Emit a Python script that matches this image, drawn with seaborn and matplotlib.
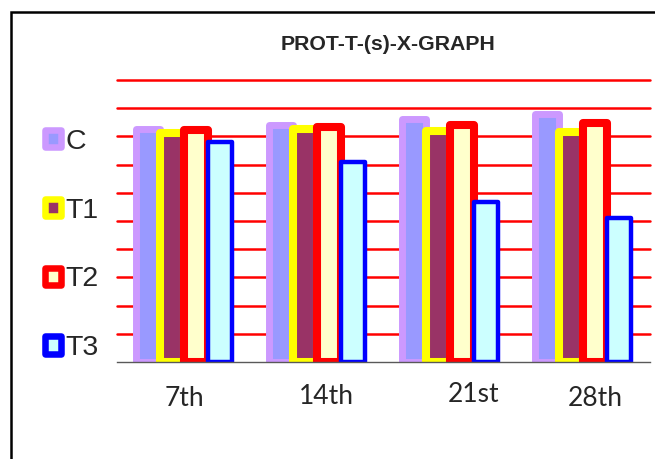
import matplotlib
matplotlib.use('Agg')
import matplotlib.pyplot as plt
import matplotlib.transforms as mtransforms
from matplotlib.patches import Patch, Rectangle
import seaborn as sns
import pandas as pd

# values (one unit = one red gridline)
days = ['7th', '14th', '21st', '28th']
series = ['C', 'T1', 'T2', 'T3']
c_vals = [8.26, 8.39, 8.62, 8.79]
t1_vals = [8.11, 8.27, 8.19, 8.16]
t2_vals = [8.24, 8.33, 8.40, 8.49]
t3_vals = [7.80, 7.09, 5.68, 5.09]

fill_colors = ['#9999FF', '#993366', '#FFFFCC', '#CCFFFF']
edge_colors = ['#CC99FF', '#FFFF00', '#FF0000', '#0000FF']
edge_widths = [5.0, 5.8, 5.8, 3.2]

df = pd.DataFrame({
    'day': days * len(series),
    'series': [s for s in series for _ in days],
    'value': c_vals + t1_vals + t2_vals + t3_vals,
})

sns.set_style('white')
fig = plt.figure(figsize=(6.55, 4.59), dpi=100)
ax = fig.add_axes([117 / 655, 1 - 362 / 459, 533 / 655, 282 / 459])

sns.barplot(data=df, x='day', y='value', hue='series', order=days, hue_order=series,
            palette=fill_colors, saturation=1, width=0.72, errorbar=None,
            legend=False, ax=ax)

# thick coloured outlines with rounded corners, like the Excel original
for cont, ec, lw in zip(ax.containers, edge_colors, edge_widths):
    for bar in cont:
        bar.set_edgecolor(ec)
        bar.set_linewidth(lw)
        bar.set_joinstyle('round')

ax.set_xlim(-0.5, 3.5)
ax.set_ylim(0, 10)
ax.set_yticks(range(1, 11))
ax.set_yticklabels([])
ax.tick_params(axis='y', length=0)
ax.yaxis.grid(True, color='#FF0000', linewidth=1.8)
for gl in ax.get_ygridlines():
    gl.set_clip_on(False)
ax.set_axisbelow(True)

for side in ['left', 'top', 'right']:
    ax.spines[side].set_visible(False)
ax.spines['bottom'].set_color('#595959')
ax.spines['bottom'].set_linewidth(1.0)

ax.set_xticks(range(len(days)))
ax.set_xticklabels(days, fontsize=19, family='Lato')
ax.tick_params(axis='x', which='major', length=0, pad=17)
ax.set_xticks([-0.5, 0.5, 1.5, 2.5, 3.5], minor=True)
ax.tick_params(axis='x', which='minor', length=6, width=1, color='#595959', direction='out')
ax.set_xlabel('')
ax.set_ylabel('')

# the category labels are not quite centred in the original
label_offsets = [(1, 0), (9.5, 2), (23, 4), (12, 0)]
for lab, (dx, dy) in zip(ax.get_xticklabels(), label_offsets):
    lab.set_transform(lab.get_transform() + mtransforms.ScaledTranslation(dx / 100, dy / 100, fig.dpi_scale_trans))

handles = [Patch(facecolor=f, edgecolor=e, linewidth=4.7, label=s)
           for s, f, e in zip(series, fill_colors, edge_colors)]
leg = fig.legend(handles=handles, loc='center left', bbox_to_anchor=(45 / 655, 1 - 245 / 459),
                 frameon=False, prop={'family': 'Liberation Sans', 'size': 20.5},
                 handlelength=0.55, handleheight=0.55, handletextpad=0.18,
                 labelspacing=1.5, borderpad=0, borderaxespad=0)
for p in leg.get_patches():
    p.set_joinstyle('round')

fig.text(388 / 655, 1 - 45 / 459, 'PROT-T-(s)-X-GRAPH', ha='center', va='center',
         fontsize=15.3, fontweight='bold', family='Liberation Sans')

# outer chart border (cut off at right and bottom in the original)
fig.add_artist(Rectangle((10.7 / 655, -0.1), 1.0, 1 - 12.2 / 459 + 0.1,
                         transform=fig.transFigure, fill=False,
                         edgecolor='black', linewidth=1.8))

fig.savefig('out.png', dpi=100)
